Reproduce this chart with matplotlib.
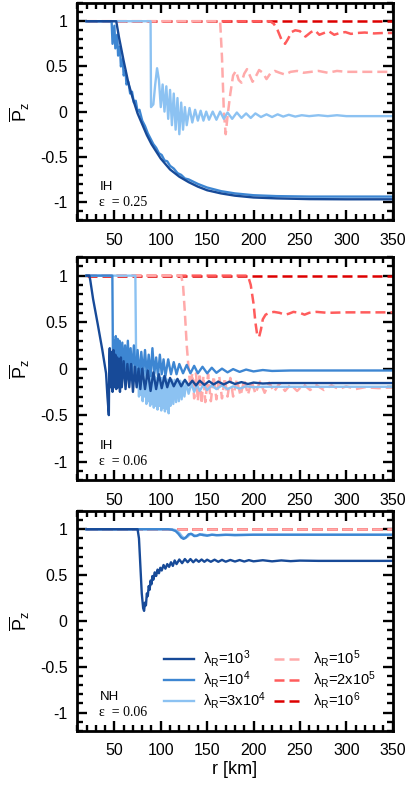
import matplotlib
matplotlib.use('Agg')
import matplotlib.pyplot as plt
from matplotlib.ticker import MultipleLocator, FormatStrFormatter

plt.rcParams['font.family'] = ['Liberation Sans', 'DejaVu Sans']
plt.rcParams['mathtext.fontset'] = 'custom'
plt.rcParams['mathtext.rm'] = 'Liberation Sans'
plt.rcParams['mathtext.it'] = 'Liberation Sans:italic'
plt.rcParams['mathtext.bf'] = 'Liberation Sans:bold'
plt.rcParams['axes.unicode_minus'] = False

# ---- legend labels / colours ----
labels = ['λ$_\\mathrm{R}$=10$^3$', 'λ$_\\mathrm{R}$=10$^4$', 'λ$_\\mathrm{R}$=3x10$^4$',
          'λ$_\\mathrm{R}$=10$^5$', 'λ$_\\mathrm{R}$=2x10$^5$', 'λ$_\\mathrm{R}$=10$^6$']
colors = ['#174a98', '#3d86d2', '#8cc2f2', '#ffaaaa', '#ff5c5c', '#dd0000']

# ---- panel 1: IH, eps = 0.25 ----
p1_r_1e3 = [20, 52, 55, 60, 65, 70, 75, 80, 85, 90, 100, 110, 120, 130, 140, 150, 165, 180, 200, 225, 260, 300, 350]
p1_P_1e3 = [1, 1, 0.82, 0.56, 0.32, 0.14, -0.02, -0.14, -0.26, -0.36, -0.52, -0.64, -0.72, -0.78, -0.83, -0.87,
            -0.905, -0.93, -0.95, -0.96, -0.968, -0.97, -0.97]

p1_r_1e4 = [20, 47, 48, 50, 51, 53, 54, 56, 57, 59, 60, 62, 63, 65, 67, 69, 71, 73, 75, 77, 80, 83, 86, 89, 92, 95,
            98, 101, 104, 107, 110, 114, 118, 122, 126, 130, 140, 150, 165, 180, 200, 225, 260, 300, 350]
p1_P_1e4 = [1, 1, 0.75, 0.95, 0.7, 0.85, 0.62, 0.72, 0.5, 0.58, 0.4, 0.45, 0.3, 0.33, 0.2, 0.22, 0.1, 0.12, 0.0,
            0.02, -0.1, -0.16, -0.24, -0.3, -0.36, -0.4, -0.46, -0.48, -0.54, -0.55, -0.6, -0.63, -0.68, -0.7,
            -0.74, -0.75, -0.8, -0.84, -0.88, -0.905, -0.925, -0.935, -0.94, -0.94, -0.94]

p1_r_3e4 = [20, 89, 89.5, 92, 94, 96, 98, 100, 102, 104, 106, 108, 110, 112, 114, 116, 118, 120, 122, 124, 126,
            128, 131, 134, 137, 140, 143, 146, 149, 152, 156, 160, 164, 168, 172, 177, 182, 187, 192, 197, 202,
            208, 214, 220, 226, 232, 238, 245, 252, 260, 270, 280, 290, 300, 350]
p1_P_3e4 = [1, 1, 0.05, 0.08, 0.3, 0.48, 0.35, 0.05, 0.3, 0.0, 0.28, -0.08, 0.24, -0.15, 0.2, -0.2, 0.15, -0.25,
            0.1, -0.2, 0.05, -0.15, 0.04, -0.12, 0.02, -0.1, 0.01, -0.1, 0.0, -0.09, 0.0, -0.09, 0.0, -0.08,
            -0.01, -0.08, -0.01, -0.07, -0.02, -0.07, -0.02, -0.06, -0.03, -0.06, -0.03, -0.055, -0.035, -0.055,
            -0.04, -0.05, -0.04, -0.05, -0.04, -0.05, -0.05]

p1_r_1e5 = [20, 164, 166, 168, 170, 172, 175, 178, 181, 184, 187, 190, 193, 196, 199, 202, 206, 210, 214, 218,
            223, 228, 234, 240, 247, 254, 262, 270, 280, 290, 300, 320, 350]
p1_P_1e5 = [1, 1, 0.6, 0.0, -0.25, -0.05, 0.2, 0.4, 0.45, 0.35, 0.32, 0.42, 0.47, 0.4, 0.33, 0.38, 0.46, 0.43,
            0.36, 0.42, 0.45, 0.43, 0.41, 0.44, 0.45, 0.43, 0.44, 0.45, 0.43, 0.45, 0.44, 0.44, 0.44]

p1_r_2e5 = [20, 218, 222, 226, 230, 234, 237, 241, 245, 250, 256, 262, 266, 271, 276, 281, 287, 293, 299, 305,
            312, 320, 330, 340, 350]
p1_P_2e5 = [1, 1, 0.97, 0.9, 0.8, 0.75, 0.8, 0.88, 0.9, 0.89, 0.83, 0.88, 0.9, 0.85, 0.87, 0.89, 0.85, 0.87,
            0.88, 0.86, 0.87, 0.875, 0.865, 0.87, 0.87]

p1_r_1e6 = [20, 350]
p1_P_1e6 = [1, 1]

# ---- panel 2: IH, eps = 0.06 ----
p2_r_1e3 = [20, 23, 24, 27, 32, 37, 41, 42.5, 44, 44.5, 45, 46, 47, 48, 49, 50, 51, 52, 53, 54, 55, 56, 57, 58,
            60, 62, 64, 66, 68, 70, 72, 74, 76, 78, 80, 83, 86, 89, 92, 95, 98, 101, 104, 107, 110, 114, 118,
            122, 126, 130, 134, 138, 142, 147, 152, 157, 162, 168, 174, 180, 187, 194, 200, 210, 220, 250, 350]
p2_P_1e3 = [1, 1, 0.95, 0.75, 0.48, 0.2, -0.05, -0.3, -0.5, 0.1, 0.22, -0.2, 0.18, -0.25, 0.2, -0.2, 0.15,
            -0.22, 0.12, -0.2, 0.1, -0.25, 0.12, -0.2, 0.08, -0.22, 0.05, -0.2, 0.05, -0.25, 0.02, -0.2, 0.0,
            -0.22, 0.0, -0.22, -0.02, -0.24, -0.04, -0.22, -0.06, -0.21, -0.08, -0.2, -0.1, -0.19, -0.11, -0.19,
            -0.12, -0.18, -0.13, -0.18, -0.13, -0.175, -0.135, -0.17, -0.14, -0.17, -0.14, -0.165, -0.145,
            -0.165, -0.15, -0.16, -0.155, -0.155, -0.155]

p2_r_1e4 = [20, 47.8, 48.5, 49.5, 50.5, 51.5, 52.5, 53.5, 54.5, 55.5, 57, 58.5, 60, 61.5, 63, 64.5, 66, 67.5,
            69, 71, 73, 75, 77, 79, 81, 83, 85, 87, 89, 91, 93, 95, 97, 99, 101, 103, 105, 108, 111, 114, 117,
            120, 124, 128, 132, 136, 140, 145, 150, 155, 160, 166, 172, 178, 185, 192, 200, 210, 220, 240, 350]
p2_P_1e4 = [1, 1, 0.0, 0.3, 0.05, 0.35, 0.0, 0.32, -0.02, 0.3, 0.0, 0.28, -0.05, 0.25, -0.04, 0.3, -0.05,
            0.22, -0.06, 0.25, -0.05, 0.2, -0.08, 0.18, -0.06, 0.2, -0.08, 0.15, -0.08, 0.22, -0.06, 0.12,
            -0.08, 0.15, -0.06, 0.1, -0.08, 0.1, -0.06, 0.07, -0.06, 0.05, -0.05, 0.04, -0.05, 0.03, -0.05,
            0.02, -0.05, 0.01, -0.045, 0.0, -0.04, -0.005, -0.035, -0.01, -0.03, -0.015, -0.025, -0.02, -0.02]

p2_r_3e4 = [20, 72.6, 73.5, 74.5, 75.5, 76.5, 77.5, 78.5, 79.5, 80.5, 81.5, 82.5, 83.5, 84.5, 85.5, 86.5, 87.5,
            88.5, 89.5, 90.5, 91.5, 92.5, 93.5, 94.5, 95.5, 96.5, 97.5, 98.5, 99.5, 100.5, 101.5, 102.5, 103.5,
            104.5, 105.5, 106.5, 107.5, 108.5, 109.5, 110.5, 112, 113.5, 115, 116.5, 118, 119.5, 121, 122.5,
            124, 125.5, 127.5, 130, 133, 136, 139, 142, 146, 150, 155, 160, 166, 172, 178, 185, 192, 200, 210,
            350]
p2_P_3e4 = [1, 1, 0.0, -0.2, 0.0, -0.3, -0.02, -0.28, 0.0, -0.35, -0.05, -0.3, -0.02, -0.38, -0.05, -0.35,
            -0.05, -0.4, -0.08, -0.38, -0.06, -0.42, -0.08, -0.4, -0.1, -0.44, -0.08, -0.4, -0.1, -0.45, -0.1,
            -0.42, -0.08, -0.46, -0.1, -0.43, -0.12, -0.48, -0.12, -0.4, -0.12, -0.38, -0.12, -0.36, -0.12,
            -0.35, -0.13, -0.33, -0.14, -0.3, -0.15, -0.27, -0.16, -0.25, -0.17, -0.24, -0.17, -0.23, -0.18,
            -0.22, -0.18, -0.22, -0.19, -0.215, -0.19, -0.2, -0.195, -0.195]

p2_r_1e5 = [20, 122, 124, 126, 128, 130, 132, 134, 136, 138, 140, 142, 144, 146, 148, 151, 154, 157, 160, 163,
            166, 169, 172, 175, 178, 182, 186, 190, 194, 198, 202, 207, 212, 217, 222, 228, 234, 240, 247, 254,
            261, 268, 276, 284, 292, 300, 310, 320, 335, 350]
p2_P_1e5 = [1, 1, 0.9, 0.6, 0.25, 0.0, -0.2, -0.05, -0.32, -0.05, -0.35, -0.05, -0.38, -0.08, -0.36, -0.06,
            -0.35, -0.08, -0.33, -0.08, -0.32, -0.1, -0.3, -0.1, -0.3, -0.12, -0.29, -0.12, -0.28, -0.13, -0.27,
            -0.14, -0.26, -0.15, -0.25, -0.16, -0.24, -0.17, -0.24, -0.17, -0.23, -0.18, -0.23, -0.18, -0.22,
            -0.19, -0.22, -0.2, -0.21, -0.2]

p2_r_2e5 = [20, 194, 197, 200, 202, 204, 206, 208, 210, 213, 217, 222, 228, 234, 238, 243, 250, 255, 260, 268,
            280, 300, 350]
p2_P_2e5 = [1, 1, 0.9, 0.7, 0.5, 0.36, 0.34, 0.42, 0.53, 0.58, 0.6, 0.61, 0.6, 0.58, 0.59, 0.61, 0.6, 0.58,
            0.6, 0.61, 0.6, 0.605, 0.605]

p2_r_1e6 = [20, 350]
p2_P_1e6 = [1, 1]

# ---- panel 3: NH, eps = 0.06 ----
p3_r_1e3 = [20, 75, 76.5, 78, 79.5, 81, 82, 83, 84, 85, 86, 87, 88, 89, 90, 91, 92, 93.5, 95, 96.5, 98, 99.5,
            101, 103, 105, 107, 109, 111, 113, 115, 117, 120, 123, 126, 129, 132, 135, 138, 141, 144, 147,
            150, 154, 158, 162, 166, 170, 175, 180, 185, 190, 195, 200, 210, 220, 230, 240, 250, 270, 300, 350]
p3_P_1e3 = [1, 1, 0.9, 0.6, 0.3, 0.14, 0.11, 0.2, 0.17, 0.3, 0.27, 0.38, 0.34, 0.44, 0.4, 0.49, 0.45, 0.53,
            0.49, 0.56, 0.52, 0.58, 0.55, 0.61, 0.57, 0.62, 0.59, 0.64, 0.6, 0.66, 0.62, 0.67, 0.63, 0.675, 0.64,
            0.675, 0.64, 0.67, 0.645, 0.67, 0.645, 0.668, 0.645, 0.668, 0.645, 0.666, 0.646, 0.665, 0.648,
            0.664, 0.648, 0.663, 0.65, 0.662, 0.65, 0.66, 0.652, 0.658, 0.655, 0.655, 0.655]

p3_r_1e4 = [20, 108, 112, 116, 119, 122, 124.5, 127, 130, 133, 136, 139, 142, 146, 150, 155, 160, 170, 180, 200,
            350]
p3_P_1e4 = [1, 1, 0.995, 0.98, 0.95, 0.91, 0.895, 0.91, 0.945, 0.95, 0.925, 0.93, 0.945, 0.935, 0.93, 0.94,
            0.935, 0.94, 0.935, 0.94, 0.94]

p3_r_3e4 = [20, 112, 116, 120, 123, 126, 129, 132, 135, 138, 141, 145, 150, 156, 162, 175, 350]
p3_P_3e4 = [1, 1, 0.99, 0.96, 0.92, 0.9, 0.92, 0.95, 0.94, 0.925, 0.935, 0.945, 0.935, 0.94, 0.935, 0.94, 0.94]

p3_r_1e5 = [20, 350]
p3_P_1e5 = [1, 1]
p3_r_2e5 = [20, 350]
p3_P_2e5 = [1, 1]
p3_r_1e6 = [20, 350]
p3_P_1e6 = [1, 1]

panels = [
    [(p1_r_1e3, p1_P_1e3), (p1_r_1e4, p1_P_1e4), (p1_r_3e4, p1_P_3e4),
     (p1_r_1e5, p1_P_1e5), (p1_r_2e5, p1_P_2e5), (p1_r_1e6, p1_P_1e6)],
    [(p2_r_1e3, p2_P_1e3), (p2_r_1e4, p2_P_1e4), (p2_r_3e4, p2_P_3e4),
     (p2_r_1e5, p2_P_1e5), (p2_r_2e5, p2_P_2e5), (p2_r_1e6, p2_P_1e6)],
    [(p3_r_1e3, p3_P_1e3), (p3_r_1e4, p3_P_1e4), (p3_r_3e4, p3_P_3e4),
     (p3_r_1e5, p3_P_1e5), (p3_r_2e5, p3_P_2e5), (p3_r_1e6, p3_P_1e6)],
]
hierarchy = ['IH', 'IH', 'NH']
eps_text = ['ε  = 0.25', 'ε  = 0.06', 'ε  = 0.06']

fig = plt.figure(figsize=(4.09, 7.86), dpi=100)
boxes = [(0.189, 0.720, 0.771, 0.276), (0.189, 0.389, 0.771, 0.284), (0.189, 0.070, 0.771, 0.280)]

for k, series in enumerate(panels):
    ax = fig.add_axes(boxes[k])
    handles = [None] * 6
    # reds first (10^6 at the bottom), then blues on top (10^3 on top)
    for i in [5, 4, 3, 2, 1, 0]:
        r, P = series[i]
        if i >= 3:
            h, = ax.plot(r, P, color=colors[i], lw=1.8, dashes=(4, 2), label=labels[i])
        else:
            h, = ax.plot(r, P, color=colors[i], lw=1.7, label=labels[i])
        handles[i] = h

    ax.set_xlim(10, 350)
    ax.set_ylim(-1.2, 1.2)
    ax.xaxis.set_major_locator(MultipleLocator(50))
    ax.xaxis.set_minor_locator(MultipleLocator(10))
    ax.yaxis.set_major_locator(MultipleLocator(0.5))
    ax.yaxis.set_minor_locator(MultipleLocator(0.1))
    ax.yaxis.set_major_formatter(FormatStrFormatter('%g'))
    ax.set_xticks([50, 100, 150, 200, 250, 300, 350])
    ax.tick_params(which='both', direction='in', top=True, right=True, width=1.7, labelsize=11.5)
    ax.tick_params(which='major', length=7)
    ax.tick_params(which='minor', length=4.3)
    ax.tick_params(axis='x', which='major', pad=9)
    ax.tick_params(axis='y', which='major', pad=7)
    for s in ax.spines.values():
        s.set_linewidth(2)
    ax.set_ylabel(r'$\overline{\mathrm{P}}_{\mathrm{z}}$', fontsize=13, labelpad=6)

    ax.text(34, -0.83, hierarchy[k], fontsize=9.5, va='center')
    ax.text(33, -1.0, eps_text[k], fontsize=10, va='center', family='Liberation Serif')

    if k == 2:
        ax.set_xlabel('r [km]', fontsize=13, labelpad=2)
        ax.legend(handles=handles, ncol=2, frameon=False, fontsize=10.5,
                  loc='lower right', bbox_to_anchor=(0.99, 0.03),
                  handlelength=2.1, columnspacing=0.5, labelspacing=0.0, handletextpad=0.62)

fig.savefig('out.png', dpi=100)
